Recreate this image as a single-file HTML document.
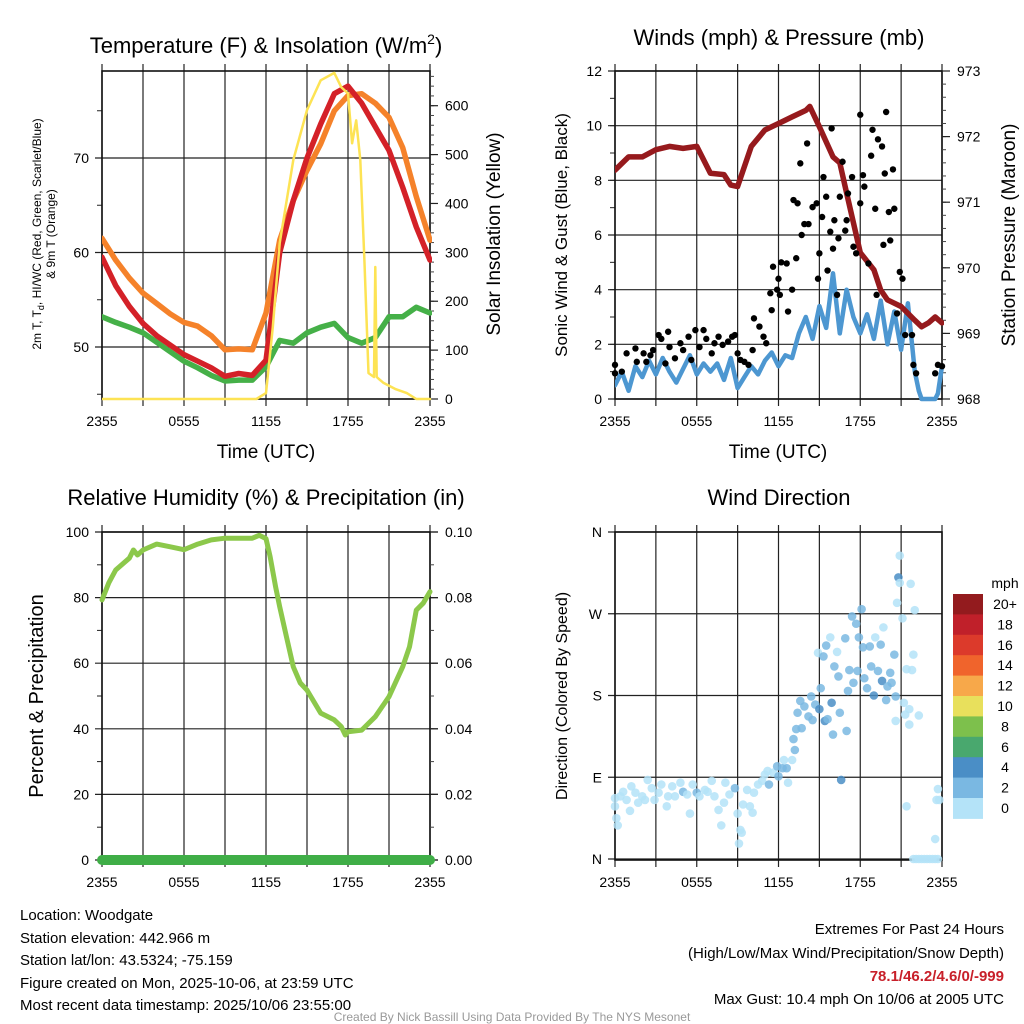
<!DOCTYPE html>
<html><head><meta charset="utf-8">
<style>
html,body{margin:0;padding:0;background:#fff;}
svg{display:block;font-family:"Liberation Sans",Arial,sans-serif;}
</style></head>
<body>
<svg id="chart" width="1024" height="1024" viewBox="0 0 1024 1024" xmlns="http://www.w3.org/2000/svg">
<rect x="0" y="0" width="1024" height="1024" fill="#fff"/>
<g id="p1"></g>
<g id="p2"></g>
<g id="p3"></g>
<g id="p4"></g>
<g id="txt">
<text x="266" y="53" font-size="22" text-anchor="middle">Temperature (F) &amp; Insolation (W/m<tspan font-size="14" dy="-9">2</tspan><tspan dy="9">)</tspan></text>
<text x="779" y="45" font-size="22" text-anchor="middle">Winds (mph) &amp; Pressure (mb)</text>
<text x="266" y="505" font-size="22" text-anchor="middle">Relative Humidity (%) &amp; Precipitation (in)</text>
<text x="779" y="505" font-size="22" text-anchor="middle">Wind Direction</text>
<text x="266" y="458" font-size="19" text-anchor="middle">Time (UTC)</text>
<text x="778" y="458" font-size="19" text-anchor="middle">Time (UTC)</text>
<text transform="translate(41,234) rotate(-90)" font-size="12" text-anchor="middle">2m T, T<tspan font-size="9" dy="3">d</tspan><tspan dy="-3">, HI/WC (Red, Green, Scarlet/Blue)</tspan></text>
<text transform="translate(55,234) rotate(-90)" font-size="12" text-anchor="middle">&amp; 9m T (Orange)</text>
<text transform="translate(500,234) rotate(-90)" font-size="19" text-anchor="middle">Solar Insolation (Yellow)</text>
<text transform="translate(567,235) rotate(-90)" font-size="17" text-anchor="middle">Sonic Wind &amp; Gust (Blue, Black)</text>
<text transform="translate(1015,235) rotate(-90)" font-size="19" text-anchor="middle">Station Pressure (Maroon)</text>
<text transform="translate(43,696) rotate(-90)" font-size="20" text-anchor="middle">Percent &amp; Precipitation</text>
<text transform="translate(567,696) rotate(-90)" font-size="16" text-anchor="middle">Direction (Colored By Speed)</text>
<g font-size="15">
<text x="20" y="920">Location: Woodgate</text>
<text x="20" y="943">Station elevation: 442.966 m</text>
<text x="20" y="965">Station lat/lon: 43.5324; -75.159</text>
<text x="20" y="988">Figure created on Mon, 2025-10-06, at 23:59 UTC</text>
<text x="20" y="1010">Most recent data timestamp: 2025/10/06 23:55:00</text>
</g>
<g font-size="15" text-anchor="end">
<text x="1004" y="934">Extremes For Past 24 Hours</text>
<text x="1004" y="958">(High/Low/Max Wind/Precipitation/Snow Depth)</text>
<text x="1004" y="981" font-weight="bold" fill="#c8202a">78.1/46.2/4.6/0/-999</text>
<text x="1004" y="1004">Max Gust: 10.4 mph On 10/06 at 2005 UTC</text>
</g>
<text x="512" y="1021" font-size="12" fill="#999" text-anchor="middle">Created By Nick Bassill Using Data Provided By The NYS Mesonet</text>
</g>
</svg>
<script>
// ---------- data ----------
const xTickLabels = ["2355","0555","1155","1755","2355"];
const hours = [0,1,2,3,4,5,6,7,8,9,10,11,12,13,14,15,16,17,18,19,20,21,22,23,24];
const tempRed = [59.5,56.5,54.3,52.5,51.2,50.2,49.2,48.5,47.8,46.9,47.2,47.0,48.6,60,65.5,70,73.6,76.8,77.6,75.8,73.3,70.8,66.9,62.7,59.2];
const tempOrange = [61.5,59.2,57.3,55.7,54.6,53.5,52.6,52.2,51.2,49.7,49.8,49.7,53.6,61.3,65.5,68.7,71.5,75,76.6,76.8,75.8,74.3,71.1,65.9,61.3];
const tempGreen = [53.2,52.6,52.1,51.5,50.5,49.5,48.5,47.8,47.0,46.4,46.5,46.5,47.9,50.7,50.4,51.5,52.1,52.5,51.0,50.4,51.0,53.2,53.2,54.2,53.6];
const solarTimes = [0,11.3,12,12.5,13,14,15,16,17,17.5,18,18.3,18.6,18.9,19.2,19.5,19.9,20.0,20.1,20.3,20.6,21.5,22.3,23,24];
const solarValues = [0,0,12,147,319,489,591,652,667,638,625,523,570,489,284,53,45,270,45,40,33,20,12,0,0];
const tempTicks = [50,60,70];
const solarTicks = [0,100,200,300,400,500,600];

const presTimes = [0,1,2,3,4,5,6,7,8,8.5,9,10,11,12,13,14,14.3,15,16,16.5,17,18,19,19.5,20,21,22,22.5,23,23.5,24];
const presValues = [971.49,971.69,971.69,971.8,971.85,971.82,971.85,971.44,971.42,971.26,971.24,971.85,972.1,972.2,972.3,972.4,972.46,972.15,971.69,971.6,971.14,970.23,969.97,969.66,969.51,969.41,969.2,969.1,969.16,969.25,969.16];
const windTimes = [0,0.5,1,1.5,2,2.5,3,3.5,4,4.5,5,5.5,6,6.5,7,7.5,8,8.5,9,9.5,10,10.5,11,11.5,12,12.5,13,13.5,14,14.5,15,15.5,16,16.5,17,17.5,18,18.5,19,19.5,20,20.5,21,21.5,22,22.3,22.5,23,23.5,23.7,24];
const windValues = [0.5,1.0,0.3,1.2,0.8,1.4,0.9,1.5,1.0,0.6,1.1,1.6,0.9,1.3,1.0,1.3,0.7,1.5,0.4,0.8,1.2,0.9,1.4,1.7,1.2,1.6,1.5,2.4,3.0,2.2,3.4,2.6,4.6,2.4,4.0,3.0,2.4,3.1,2.2,3.6,2.0,3.2,1.8,3.5,1.0,0.3,0.0,0.0,0.0,0.2,1.2];
const gustTimes = [0,0,0.5,0.85,1.5,1.6,2.1,2.3,2.6,2.8,3.2,3.4,3.7,3.9,4.0,4.4,4.8,5.0,5.4,5.6,5.9,6.2,6.5,6.7,7.1,7.3,7.6,7.9,8.3,8.6,8.8,9.0,9.2,9.5,9.8,10.1,10.2,10.6,10.9,11.1,11.4,11.5,11.6,11.9,12.0,12.1,12.2,12.6,12.7,13.0,13.1,13.3,13.4,13.6,13.7,13.9,14.1,14.2,14.5,14.8,14.9,15.0,15.2,15.3,15.5,15.6,15.8,15.9,16.0,16.1,16.3,16.4,16.5,16.7,16.9,17.0,17.1,17.4,17.5,17.7,18.0,18.0,18.2,18.3,18.6,18.8,18.9,19.1,19.2,19.3,19.6,19.7,19.8,19.9,20.1,20.2,20.4,20.5,20.7,20.9,21.1,21.3,21.8,21.9,22.1,23.5,23.7,24];
const gustValues = [0.94,1.25,1.0,1.67,1.85,1.36,1.67,1.36,1.6,1.79,2.34,2.2,1.3,2.46,1.9,1.49,2.04,1.79,2.28,1.43,2.52,1.9,2.52,2.2,1.67,2.04,2.28,1.98,2.1,2.28,2.34,1.67,1.43,1.36,1.25,1.79,2.95,2.65,2.28,2.04,3.87,3.25,4.84,4.0,4.4,3.81,5.0,4.96,3.2,4.0,7.28,5.15,7.16,8.62,6.0,6.4,9.35,6.4,7.02,7.16,4.4,5.33,6.66,8.12,7.4,4.7,6.12,9.9,5.5,6.54,3.81,5.88,7.4,8.68,6.16,6.54,7.52,8.12,5.57,5.33,7.16,10.4,8.19,7.77,4.96,8.9,9.85,6.96,3.81,9.5,9.24,5.64,8.25,10.5,6.84,5.8,8.4,6.96,3.13,4.65,4.4,2.34,2.34,1.25,0.94,0.94,1.25,1.2];
const windTicks = [0,2,4,6,8,10,12];
const presTicks = [968,969,970,971,972,973];

const rhTimes = [0,0.5,1,2,2.3,2.6,3,4,5,6,7,8,9,10,11,11.5,12,12.3,12.7,13,13.5,14,14.5,15,16,17,17.5,17.8,18,19,20,21,22,22.5,23,23.5,24];
const rhValues = [79.3,84.5,88.4,92,94.5,93,94.5,96.3,95.5,94.6,96.3,97.6,98.1,98.1,98.1,99,98,92.5,83.3,77.2,68,58.9,54,51.8,44.8,42.7,40.7,38.1,39.1,39.6,43.7,49.8,58.9,65,76.2,78.3,81.8];
const precipTimes = [0,24];
const precipValues = [0,0];
const rhTicks = [0,20,40,60,80,100];
const precipTicks = ["0.00","0.02","0.04","0.06","0.08","0.10"];

const dirTimes = [0,0.1,0.2,0,0.4,0.6,0.85,1.1,1.2,1.5,1.7,2.0,2.2,2.4,2.7,2.9,3.2,3.4,3.8,3.9,4.2,4.4,4.8,5.0,5.3,5.5,5.7,6.0,6.2,6.6,6.8,7.1,7.3,7.6,7.8,8.0,8.1,8.4,8.8,9.0,9.2,9.3,9.1,9.4,9.7,9.9,10.1,10.2,10.5,10.8,11.0,11.2,11.3,11.6,11.9,12.0,12.3,12.4,12.6,12.7,13.0,13.2,13.1,13.3,13.6,13.4,13.7,13.9,14.2,14.4,14.5,14.7,14.9,15.0,15.1,15.3,15.4,15.5,15.6,15.8,15.9,16.0,16.1,16.3,16.4,16.5,16.6,16.9,17.0,17.1,17.2,17.4,17.5,17.7,17.8,17.9,18.1,18.2,18.3,18.5,18.7,18.8,19.0,19.1,19.3,19.5,19.6,19.7,19.9,20.0,20.2,20.3,20.5,20.6,20.6,20.7,20.8,20.9,20.9,21.1,21.2,21.3,21.4,21.4,21.6,21.6,21.7,21.8,21.9,22.0,22.3,21.9,22.1,22.3,22.5,22.7,22.9,23.1,23.3,23.5,23.7,23.5,23.6,23.7,23.8];
const dirValues = [58,45,37,67,69,74,65,53,80,73,62,69,65,87,78,65,73,82,58,69,80,69,84,74,71,50,82,73,69,76,74,86,69,54,37,62,84,71,78,50,32,29,17,60,76,58,51,73,82,86,93,97,82,95,102,91,100,109,100,84,109,120,132,143,174,161,144,168,157,179,153,170,227,165,188,223,152,235,154,244,172,137,212,228,201,161,87,243,141,185,208,267,194,259,207,244,275,233,199,188,234,212,180,244,207,236,196,255,175,190,205,194,225,179,152,282,310,304,334,265,172,159,209,58,148,165,303,208,225,274,158,0,0,0,0,0,0,0,0,0,0,22,65,77,65];
const dirSpeeds = [1,1,1,1,1,1,1,1,1,1,1,1,1,1,1,1,1,1,1,1,1,1,1,3,1,1,1,3,1,1,1,1,1,1,1,1,1,1,3,1,1,1,1,1,1,1,1,1,1,1,1,1,3,1,3,3,3,1,3,1,1,3,3,3,3,3,3,3,3,3,3,3,1,5,3,3,5,3,3,1,5,3,3,1,3,3,5,3,3,3,3,3,3,3,3,3,3,3,3,3,3,3,5,1,3,3,5,1,3,3,3,3,3,3,1,1,5,1,1,1,1,1,1,1,1,1,1,1,1,1,1,1,1,1,1,1,1,1,1,1,1,1,1,1,1];
const dirTicks = ["N","E","S","W","N"];
const cbarLabels = ["20+","18","16","14","12","10","8","6","4","2","0"];
const cbarColors = ["#931b1e","#c0202a","#dc3a2b","#f0642c","#f7a84a","#e8e05c","#7dc04c","#49a86e","#4a8ec6","#7ab8e2","#b4e3f8"];

// ---------- helpers ----------
const NS = "http://www.w3.org/2000/svg";
function el(tag, attrs, parent){const e=document.createElementNS(NS,tag);for(const k in attrs)e.setAttribute(k,attrs[k]);parent.appendChild(e);return e;}
function lin(d0,d1,r0,r1){return v=>r0+(v-d0)*(r1-r0)/(d1-d0);}
function pathD(xs,ys,sx,sy){return xs.map((t,i)=>(i?"L":"M")+sx(t).toFixed(1)+","+sy(ys[i]).toFixed(1)).join("");}

function frame(g,L,R,T,B,yTicksLeft,sy,leftLabels,opts){
  const sx=lin(0,24,L,R);
  // vertical gridlines every 3h
  for(let h=0;h<=24;h+=3){
    const x=sx(h);
    const ln=el("line",{x1:x,y1:T-7,x2:x,y2:B+7,stroke:"#222","stroke-width":1.2},g);
    
    
  }
  for(let i=0;i<xTickLabels.length;i++){
    const t=el("text",{x:sx(i*6),y:B+27,"font-size":14,"text-anchor":"middle"},g);
    t.textContent=xTickLabels[i];
    
    
  }
  yTicksLeft.forEach((v,i)=>{
    const y=sy(v);
    const ln=el("line",{x1:L-7,y1:y,x2:R+(opts.rightExt||0),y2:y,stroke:"#222","stroke-width":1.2},g);
    
    
    const t=el("text",{x:L-13,y:y+5,"font-size":14,"text-anchor":"end"},g);
    t.textContent=leftLabels[i];
    
    
  });
  const b=el("rect",{x:L,y:T,width:R-L,height:B-T,fill:"none",stroke:"#111","stroke-width":1.6},g);
  
  
  return sx;
}
function rightAxis(g,R,ticks,labels,sy,minorStep,lo,hi){
  for(let v=lo;v<=hi+1e-9;v+=minorStep){
    const ln=el("line",{x1:R,y1:sy(v),x2:R+4,y2:sy(v),stroke:"#444","stroke-width":1},g);
    
    
  }
  ticks.forEach((v,i)=>{
    const y=sy(v);
    const ln=el("line",{x1:R,y1:y,x2:R+8,y2:y,stroke:"#222","stroke-width":1.2},g);
    
    
    const t=el("text",{x:R+15,y:y+5,"font-size":14},g);
    t.textContent=labels[i];
    
    
  });
}

// ---------- panel 1 ----------
(function(){
  const g=document.getElementById("p1");
  const L=102,R=430,T=71,B=399;
  const sy=lin(50,70,347,158);
  const sSol=lin(0,600,399,105.7);
  // minor left ticks
  [45,55,65,75].forEach(v=>{const ln=el("line",{x1:L-5,y1:sy(v),x2:L,y2:sy(v),stroke:"#222"},g);
    
    });
  const sx=frame(g,L,R,T,B,tempTicks,sy,tempTicks.map(String),{});
  rightAxis(g,R,solarTicks,solarTicks.map(String),sSol,20,0,660);
  const cp=el("clipPath",{id:"c1"},g);el("rect",{x:L,y:T-6,width:R-L+2,height:B-T+8},cp);
  const lg=el("g",{"clip-path":"url(#c1)","stroke-linejoin":"round","stroke-linecap":"round",fill:"none"},g);
  const s1=el("path",{d:pathD(hours,tempOrange,sx,sy),stroke:"#f5822a","stroke-width":5.5},lg);
  
  
  const s2=el("path",{d:pathD(hours,tempGreen,sx,sy),stroke:"#45b048","stroke-width":5.5},lg);
  
  
  const s3=el("path",{d:pathD(hours,tempRed,sx,sy),stroke:"#d42128","stroke-width":5.5},lg);
  
  
  const s4=el("path",{d:pathD(solarTimes,solarValues,sx,sSol),stroke:"#fde354","stroke-width":2.5},lg);
  
  
})();

// ---------- panel 2 ----------
(function(){
  const g=document.getElementById("p2");
  const L=615,R=942,T=71,B=399;
  const sy=lin(0,12,399,71);
  const sp=lin(968,973,399,71);
  for(let v=0;v<=12;v+=1){const ln=el("line",{x1:L-5,y1:sy(v),x2:L,y2:sy(v),stroke:"#222"},g);
    
    }
  const sx=frame(g,L,R,T,B,windTicks,sy,windTicks.map(String),{});
  rightAxis(g,R,presTicks,presTicks.map(String),sp,0.2,968,973);
  const cp=el("clipPath",{id:"c2"},g);el("rect",{x:L,y:T,width:R-L+2,height:B-T+4},cp);
  const lg=el("g",{"clip-path":"url(#c2)","stroke-linejoin":"round","stroke-linecap":"round",fill:"none"},g);
  const w=el("path",{d:pathD(windTimes,windValues,sx,sy),stroke:"#4d97d1","stroke-width":4.5},lg);
  
  
  const p=el("path",{d:pathD(presTimes,presValues,sx,sp),stroke:"#961a1d","stroke-width":5.5},lg);
  
  
  gustTimes.forEach((t,i)=>{
    const c=el("circle",{cx:sx(t),cy:sy(gustValues[i]),r:3.2,fill:"#000"},g);
    
    
  });
})();

// ---------- panel 3 ----------
(function(){
  const g=document.getElementById("p3");
  const L=102,R=430,T=532,B=860;
  const sy=lin(0,100,860,532);
  for(let v=10;v<100;v+=20){const ln=el("line",{x1:L-5,y1:sy(v),x2:L,y2:sy(v),stroke:"#222"},g);
    
    }
  const sx=frame(g,L,R,T,B,rhTicks,sy,rhTicks.map(String),{rightExt:8});
  rightAxis(g,R,rhTicks,precipTicks,sy,10,0,100);
  const lg=el("g",{"stroke-linejoin":"round","stroke-linecap":"round",fill:"none"},g);
  const pr=el("path",{d:pathD(precipTimes,precipValues.map(v=>v*1000),sx,sy),stroke:"#3fae47","stroke-width":10},lg);
  
  
  const rh=el("path",{d:pathD(rhTimes,rhValues,sx,sy),stroke:"#8cc84b","stroke-width":5},lg);
  
  
})();

// ---------- panel 4 ----------
(function(){
  const g=document.getElementById("p4");
  const L=615,R=942,T=532,B=860;
  const sy=lin(0,360,859,532);
  const sx=frame(g,L,R,T,B,[0,90,180,270,360],sy,dirTicks,{});
  const colorFor=s=>cbarColors[10-Math.min(10,Math.floor(s/2))];
  dirTimes.forEach((t,i)=>{
    const c=el("circle",{cx:sx(t),cy:sy(dirValues[i]),r:4.3,fill:colorFor(dirSpeeds[i]),"fill-opacity":0.85},g);
    
    
  });
  // colorbar
  const cb=el("g",{},g);
  
  
  const bx=953,by=594,bh=20.4;
  const mt=el("text",{x:1005,y:588,"font-size":14,"text-anchor":"middle"},cb);
  mt.textContent="mph";
  
  
  cbarLabels.forEach((lab,i)=>{
    const r=el("rect",{x:bx,y:by+i*bh,width:30,height:bh+0.5,fill:cbarColors[i]},cb);
    
    
    const t=el("text",{x:1005,y:by+i*bh+15,"font-size":14,"text-anchor":"middle"},cb);
    t.textContent=lab;
    
    
  });
})();
</script>
</body></html>
